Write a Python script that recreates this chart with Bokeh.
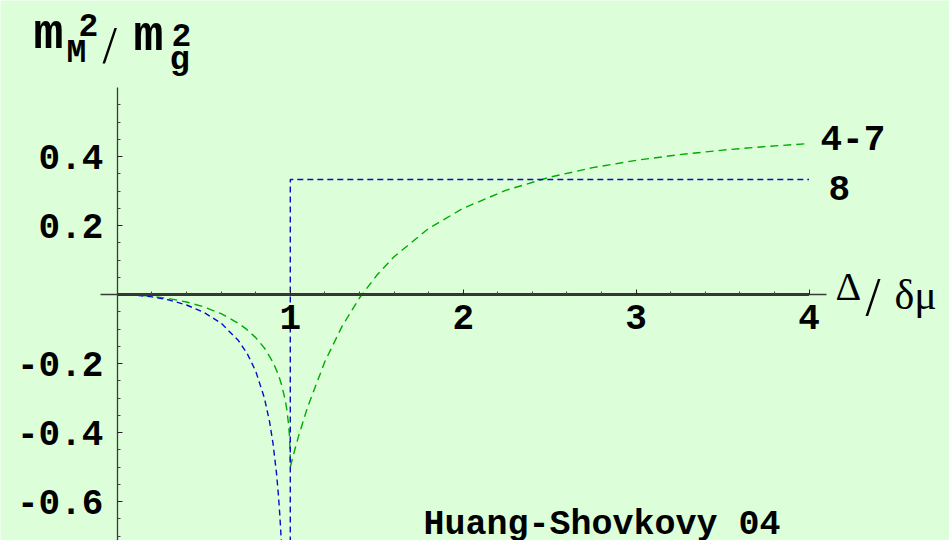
from bokeh.plotting import figure
from bokeh.models import LinearAxis, FixedTicker, Range1d, Label
from bokeh.embed import file_html
from bokeh.resources import INLINE

# Meissner screening masses of gluons, m_M^2 / m_g^2, versus Delta / delta-mu
# gluons 1-3: identically zero
ratio_13 = [0.0, 4.0]
msq_13 = [0.0, 0.0]

# gluons 4-7
ratio_47 = [0.0, 0.1, 0.2, 0.3, 0.4, 0.5, 0.6, 0.7, 0.75, 0.8, 0.85, 0.9, 0.93,
            0.95, 0.97, 0.98, 0.99, 0.995, 0.999, 1.0, 1.01, 1.02, 1.03, 1.05,
            1.1, 1.2, 1.3, 1.4, 1.5, 1.6, 1.8, 2.0, 2.25, 2.5, 2.75, 3.0, 3.25,
            3.5, 3.75, 4.0]
msq_47 = [0.0, -0.0013, -0.0051, -0.0118, -0.0218, -0.0359, -0.0556, -0.0834,
          -0.1019, -0.125, -0.155, -0.1964, -0.2312, -0.2621, -0.3044, -0.334,
          -0.3764, -0.4092, -0.4572, -0.5, -0.4803, -0.4612, -0.4426, -0.407,
          -0.3264, -0.1944, -0.0917, -0.0102, 0.0556, 0.1094, 0.1914, 0.25,
          0.3025, 0.34, 0.3678, 0.3889, 0.4053, 0.4184, 0.4289, 0.4375]

# gluon 8
ratio_8 = [0.0, 0.1, 0.2, 0.3, 0.4, 0.5, 0.6, 0.7, 0.75, 0.8, 0.85, 0.88, 0.9,
           0.92, 0.93, 0.94, 0.95, 0.96, 0.98, 0.99, 0.999, 1.0, 4.0]
msq_8 = [0.0, -0.0017, -0.0069, -0.0161, -0.0304, -0.0516, -0.0833, -0.1334,
         -0.1706, -0.2222, -0.2994, -0.3685, -0.4314, -0.5172, -0.5735, -0.6437,
         -0.7342, -0.8571, -1.3417, -2.0296, -7.12, 0.3333, 0.3333]

x_ticks = [1, 2, 3, 4]
x_tick_labels = ["1", "2", "3", "4"]
y_ticks = [-0.6, -0.4, -0.2, 0.2, 0.4]
y_tick_labels = ["-0.6", "-0.4", "-0.2", "0.2", "0.4"]

BG = "#DCFFDA"
W, H = 949, 540
X0_PX, Y0_PX = 116.9, 294.0      # canvas position of the origin
SX, SY = 172.9, 345.0            # pixels per unit along x and y


def dx(px):
    return (px - X0_PX) / SX


def dy(py):
    return (Y0_PX - py) / SY


p = figure(width=W, height=H, output_backend="svg", toolbar_location=None,
           x_axis_type=None, y_axis_type=None, min_border=0,
           x_range=Range1d(dx(0), dx(W)), y_range=Range1d(dy(H), dy(0)))
p.background_fill_color = BG
p.border_fill_color = BG
p.outline_line_color = None
p.xgrid.visible = False
p.ygrid.visible = False

mono = "Liberation Mono"
serif = "Liberation Serif"

x_minor = [round(0.2 * i, 1) for i in range(1, 20) if i % 5 != 0]
y_minor = [round(0.05 * i, 2) for i in range(-14, 12) if i % 4 != 0]

xa = LinearAxis(fixed_location=0, bounds=(-0.098, 4.1),
                ticker=FixedTicker(ticks=x_ticks, minor_ticks=x_minor))
xa.major_label_overrides = dict(zip(x_ticks, x_tick_labels))
ya = LinearAxis(fixed_location=0, bounds=(-0.75, 0.6),
                ticker=FixedTicker(ticks=y_ticks, minor_ticks=y_minor))
ya.major_label_overrides = dict(zip(y_ticks, y_tick_labels))

for ax, standoff in ((xa, 10), (ya, 14)):
    ax.axis_line_color = "#3a3a3a"
    ax.axis_line_width = 1.3
    ax.major_tick_line_color = "#222222"
    ax.minor_tick_line_color = "#444444"
    ax.major_tick_in = 5
    ax.major_tick_out = 0
    ax.minor_tick_in = 3
    ax.minor_tick_out = 0
    ax.major_label_standoff = standoff
    ax.major_label_text_font = mono
    ax.major_label_text_font_style = "bold"
    ax.major_label_text_font_size = "36px"
    ax.major_label_text_color = "black"

p.add_layout(xa, "below")
p.add_layout(ya, "left")

p.line(ratio_47, msq_47, line_color="#00AA00", line_width=1.4, line_dash="8 5")
p.line(ratio_8, msq_8, line_color="#0A0ACC", line_width=1.4, line_dash="6 4")
p.line(ratio_13, msq_13, line_color="#A00000", line_width=3)


def add_text(txt, px, base_py, size, font=mono, style="bold"):
    # place text by its baseline; the label itself is anchored at its middle
    lift = 0.30 if font == mono else 0.33
    p.add_layout(Label(x=dx(px), y=dy(base_py - lift * size), text=txt,
                       text_font=font, text_font_style=style,
                       text_font_size=f"{size}px", text_color="black",
                       text_baseline="middle"))


# curve labels
add_text("4-7", 820, 148, 36)
add_text("8", 828, 198, 36)

# x-axis title
add_text("Δ", 835, 299, 40, font=serif, style="normal")
add_text("/", 865, 314, 54, font=serif, style="normal")
add_text("δμ", 894, 308, 42, font=serif, style="normal")

# y-axis title m_M^2 / m_g^2
add_text("m", 33, 49, 50)
add_text("M", 66, 63, 33)
add_text("2", 78, 34, 33)
add_text("/", 102, 62, 52, font=serif, style="normal")
add_text("m", 133, 51, 50)
add_text("g", 169, 70, 34)
add_text("2", 171, 44, 33)

# attribution
add_text("Huang-Shovkovy 04", 423, 535, 35)

open("out.html", "w").write(file_html(p, INLINE))
